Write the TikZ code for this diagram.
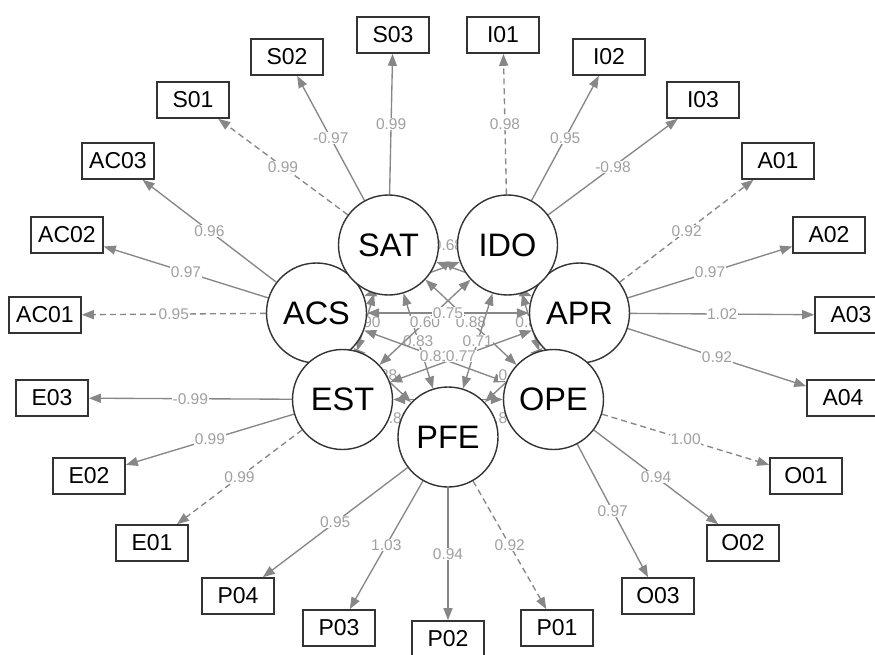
\documentclass[tikz,border=0pt]{standalone}
\usepackage{fontspec}
\setmainfont{Liberation Sans}
\usetikzlibrary{arrows.meta}
\definecolor{edgec}{HTML}{878787}
\definecolor{labc}{HTML}{A0A0A0}
\definecolor{bordc}{HTML}{333333}
\pgfdeclarelayer{bg}
\pgfsetlayers{bg,main}
\begin{document}
\begin{tikzpicture}[x=1pt,y=-1pt,
 latent/.style={circle,draw=bordc,line width=1.4pt,fill=white,minimum size=100pt,inner sep=0pt,font=\fontsize{32.5}{38}\selectfont},
 manifest/.style={rectangle,draw=bordc,line width=1.6pt,fill=white,minimum width=72pt,minimum height=36pt,inner sep=0pt,font=\fontsize{23}{27}\selectfont},
 load/.style={draw=edgec,line width=1.35pt,-{Triangle[length=12pt,width=9pt]}},
 fixload/.style={load,dash pattern=on 6pt off 4pt},
 cov/.style={draw=edgec,line width=1.35pt,{Triangle[length=12pt,width=9pt]}-{Triangle[length=12pt,width=9pt]}},
 lab/.style={fill=white,text=labc,inner sep=0.6pt,font=\fontsize{15.5}{17}\selectfont}]
\useasboundingbox (0,0) rectangle (875,655);
% latent variables (drawing order matters for overlaps)
\node[latent] (ACS) at (316.5,313) {ACS};
\node[latent] (APR) at (579.5,313) {APR};
\node[latent] (EST) at (342.5,399.5) {EST};
\node[latent] (IDO) at (507.5,245) {IDO};
\node[latent] (OPE) at (553.5,399.5) {OPE};
\node[latent] (PFE) at (448,437) {PFE};
\node[latent] (SAT) at (388.5,245) {SAT};
% indicators
\node[manifest] (S01) at (193,100) {S01};
\node[manifest] (S02) at (287,57) {S02};
\node[manifest] (S03) at (393,35) {S03};
\node[manifest] (I01) at (503,35) {I01};
\node[manifest] (I02) at (609,57) {I02};
\node[manifest] (I03) at (703,100) {I03};
\node[manifest] (A01) at (778,161) {A01};
\node[manifest] (A02) at (829,235) {A02};
\node[manifest] (A03) at (851,315) {A03};
\node[manifest] (A04) at (843,398) {A04};
\node[manifest] (O01) at (806,476) {O01};
\node[manifest] (O02) at (743,543) {O02};
\node[manifest] (O03) at (658,596) {O03};
\node[manifest] (P01) at (557,628) {P01};
\node[manifest] (P02) at (448,639) {P02};
\node[manifest] (P03) at (339,628) {P03};
\node[manifest] (P04) at (238,596) {P04};
\node[manifest] (E01) at (152,543) {E01};
\node[manifest] (E02) at (89,476) {E02};
\node[manifest] (E03) at (52,398) {E03};
\node[manifest] (AC01) at (45,315) {AC01};
\node[manifest] (AC02) at (67,235) {AC02};
\node[manifest] (AC03) at (118,161) {AC03};
\begin{pgfonlayer}{bg}
% loadings
\draw[fixload] (SAT) -- node[lab]{0.99} (S01);
\draw[load] (SAT) -- node[lab]{-0.97} (S02);
\draw[load] (SAT) -- node[lab]{0.99} (S03);
\draw[fixload] (IDO) -- node[lab]{0.98} (I01);
\draw[load] (IDO) -- node[lab]{0.95} (I02);
\draw[load] (IDO) -- node[lab]{-0.98} (I03);
\draw[fixload] (APR) -- node[lab]{0.92} (A01);
\draw[load] (APR) -- node[lab]{0.97} (A02);
\draw[load] (APR) -- node[lab]{1.02} (A03);
\draw[load] (APR) -- node[lab]{0.92} (A04);
\draw[fixload] (OPE) -- node[lab]{1.00} (O01);
\draw[load] (OPE) -- node[lab]{0.94} (O02);
\draw[load] (OPE) -- node[lab]{0.97} (O03);
\draw[fixload] (PFE) -- node[lab]{0.92} (P01);
\draw[load] (PFE) -- node[lab]{0.94} (P02);
\draw[load] (PFE) -- node[lab]{1.03} (P03);
\draw[load] (PFE) -- node[lab]{0.95} (P04);
\draw[fixload] (EST) -- node[lab]{0.99} (E01);
\draw[load] (EST) -- node[lab]{0.99} (E02);
\draw[load] (EST) -- node[lab]{-0.99} (E03);
\draw[fixload] (ACS) -- node[lab]{0.95} (AC01);
\draw[load] (ACS) -- node[lab]{0.97} (AC02);
\draw[load] (ACS) -- node[lab]{0.96} (AC03);
% covariances
\draw[cov] (SAT) -- (ACS);
\draw[cov] (SAT) -- (APR);
\draw[cov] (IDO) -- (ACS);
\draw[cov] (IDO) -- (APR);
\draw[cov] (ACS) -- (EST);
\draw[cov] (APR) -- (OPE);
\draw[cov] (EST) -- (OPE);
\draw[cov] (SAT) -- node[lab]{0.68} (IDO);
\draw[cov] (SAT) -- node[lab]{0.88} (OPE);
\draw[cov] (SAT) -- node[lab]{0.83} (PFE);
\draw[cov] (SAT) -- node[lab]{0.90} (EST);
\draw[cov] (IDO) -- node[lab]{0.89} (OPE);
\draw[cov] (IDO) -- node[lab]{0.71} (PFE);
\draw[cov] (IDO) -- node[lab]{0.60} (EST);
\draw[cov] (ACS) -- node[lab]{0.75} (APR);
\draw[cov] (ACS) -- node[lab]{0.81} (OPE);
\draw[cov] (ACS) -- node[lab]{0.88} (PFE);
\draw[cov] (APR) -- node[lab]{0.80} (PFE);
\draw[cov] (APR) -- node[lab]{0.77} (EST);
\draw[cov] (OPE) -- node[lab]{0.88} (PFE);
\draw[cov] (EST) -- node[lab]{0.88} (PFE);
\end{pgfonlayer}
\end{tikzpicture}
\end{document}
